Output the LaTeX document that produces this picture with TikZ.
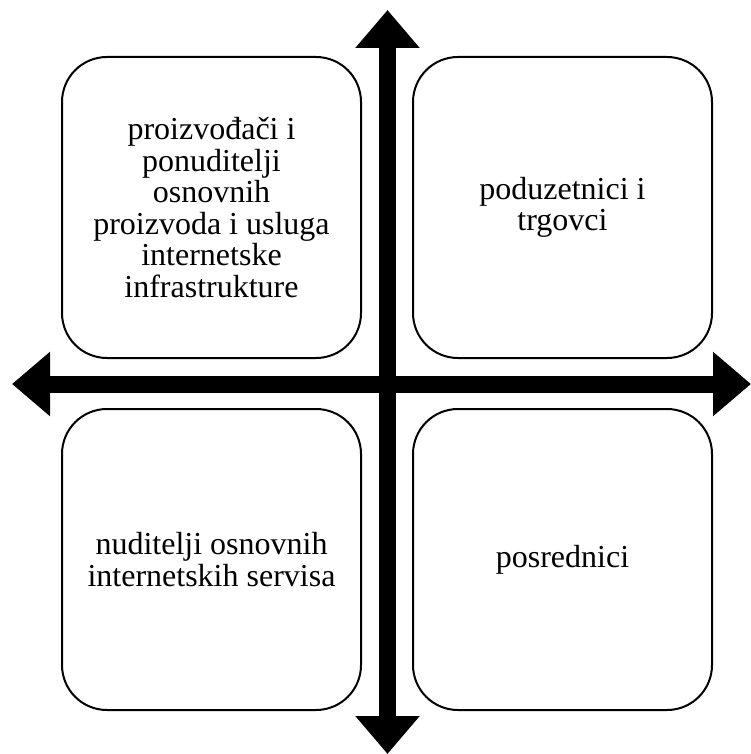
\documentclass[tikz,border=0pt]{standalone}
\usepackage{fontspec}
\setmainfont{Liberation Serif}
\usetikzlibrary{arrows.meta}
\tikzset{
  quad/.style={draw=black, line width=2pt, rounded corners=45pt,
    minimum width=299pt, minimum height=301pt, align=center,
    font=\fontsize{32pt}{31.5pt}\selectfont, inner sep=0pt},
  bigarrow/.style={line width=17pt,
    {Triangle[width=62pt,length=38pt]}-{Triangle[width=62pt,length=38pt]}}
}
\begin{document}
\begin{tikzpicture}[x=1pt,y=-1pt]
\useasboundingbox (0,0) rectangle (751,754);
\node[quad] (tl) at (211.5,207.5) {proizvođači i\\ponuditelji\\osnovnih\\proizvoda i usluga\\internetske\\infrastrukture};
\node[quad] (tr) at (562.5,207.5) {poduzetnici i\\trgovci};
\node[quad] (bl) at (211.5,559.5) {nuditelji osnovnih\\internetskih servisa};
\node[quad] (br) at (562.5,559.5) {posrednici};
\coordinate (top) at (387.5,10);
\coordinate (bottom) at (387.5,754);
\coordinate (left) at (12,384);
\coordinate (right) at (751,384);
\draw[bigarrow] (bottom) -- (top);
\draw[bigarrow] (left) -- (right);
\end{tikzpicture}
\end{document}
